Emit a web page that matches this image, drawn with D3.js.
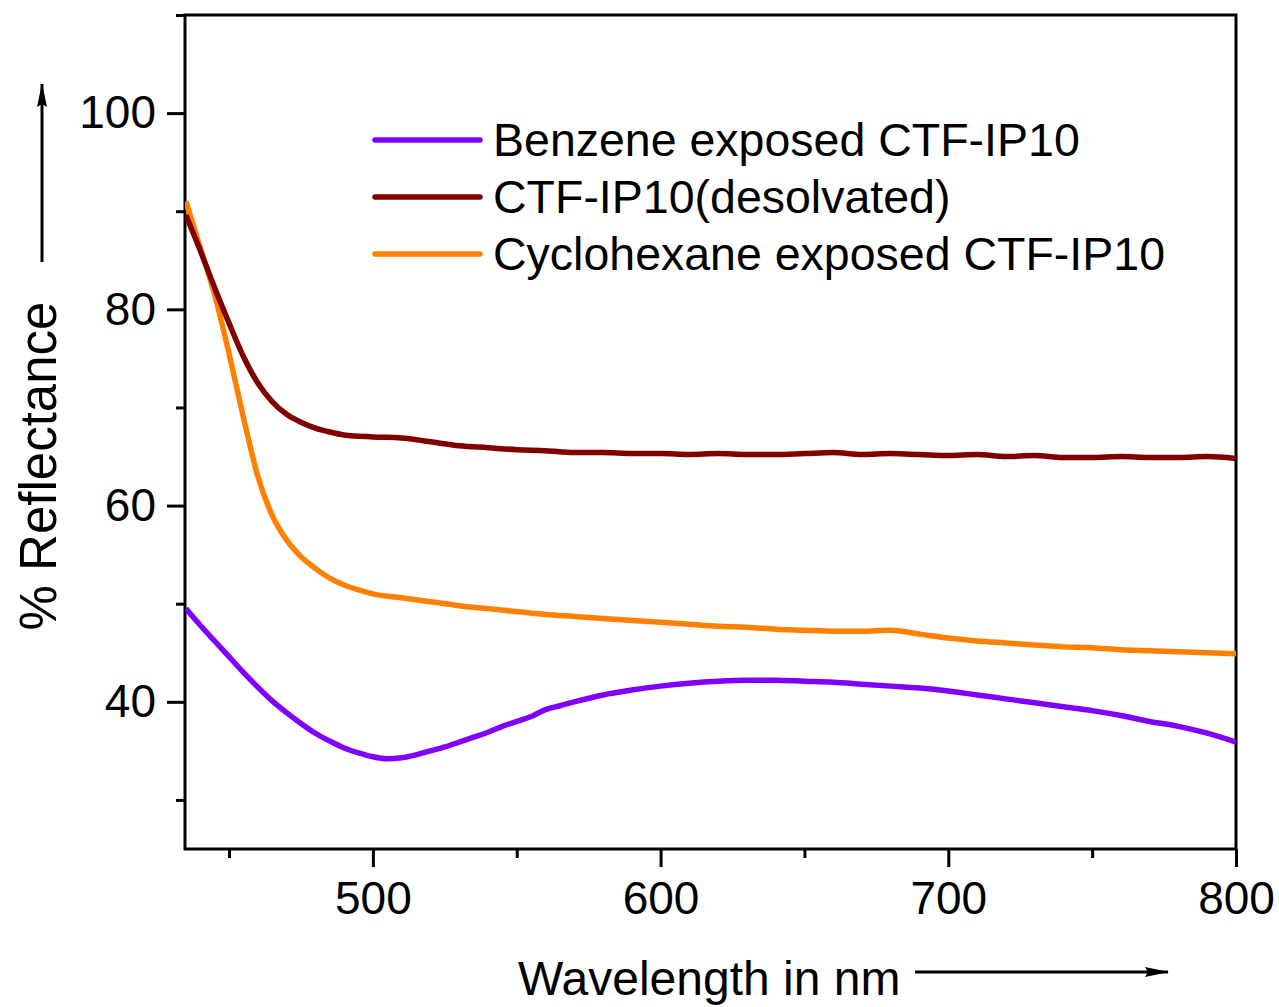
<!DOCTYPE html>
<html>
<head>
<meta charset="utf-8">
<script src="https://cdn.jsdelivr.net/npm/d3@7"></script>
<style>
  html, body { margin: 0; padding: 0; background: #fff; }
  svg { display: block; font-family: "Liberation Sans", Arial, sans-serif; }
</style>
</head>
<body>
<svg id="chart" width="1279" height="1007"></svg>
<script>
// ---- data ----
const seriesNames = ["Benzene exposed CTF-IP10", "CTF-IP10(desolvated)", "Cyclohexane exposed CTF-IP10"];
const seriesColors = ["#8000ff", "#800000", "#ff8000"];

const benzeneWl = [435,440,445,450,455,460,465,470,475,480,485,490,495,500,505,510,515,520,525,530,535,540,545,550,555,560,565,570,580,590,600,610,620,630,640,650,660,670,680,690,700,710,720,730,740,750,760,770,780,790,800];
const benzeneR  = [49.5,47.8,46.2,44.6,43.0,41.5,40.1,38.9,37.8,36.8,36.0,35.3,34.8,34.4,34.2,34.3,34.6,35.0,35.4,35.9,36.4,36.9,37.5,38.0,38.5,39.2,39.6,40.0,40.7,41.2,41.6,41.9,42.1,42.2,42.2,42.1,42.0,41.8,41.6,41.4,41.1,40.7,40.3,39.9,39.5,39.1,38.6,38.0,37.5,36.8,35.9];

const desolvWl = [435,440,445,450,455,460,465,470,475,480,485,490,500,510,520,530,540,550,560,570,580,590,600,610,620,630,640,650,660,670,680,690,700,710,720,730,740,750,760,770,780,790,800];
const desolvR  = [89.6,86.0,82.2,78.6,75.2,72.5,70.6,69.3,68.5,67.9,67.5,67.2,67.0,66.9,66.5,66.1,65.9,65.7,65.6,65.4,65.4,65.3,65.3,65.2,65.3,65.2,65.2,65.3,65.4,65.2,65.3,65.2,65.1,65.2,65.0,65.1,64.9,64.9,65.0,64.9,64.9,65.0,64.8];

const cycloWl = [435,440,445,450,455,460,465,470,475,480,485,490,495,500,510,520,530,540,550,560,570,580,590,600,610,620,630,640,650,660,670,680,690,700,710,720,730,740,750,760,770,780,790,800];
const cycloR  = [91.0,86.3,81.5,75.5,69.0,63.0,59.0,56.5,54.8,53.6,52.6,51.9,51.4,51.0,50.6,50.2,49.8,49.5,49.2,48.9,48.7,48.5,48.3,48.1,47.9,47.7,47.6,47.4,47.3,47.2,47.2,47.3,46.9,46.5,46.2,46.0,45.8,45.6,45.5,45.3,45.2,45.1,45.0,44.9];

const xMajorTicks = [500, 600, 700, 800];
const xMinorTicks = [450, 550, 650, 750];
const yMajorTicks = [40, 60, 80, 100];
const yMinorTicks = [30, 50, 70, 90, 110];

const xTitle = "Wavelength in nm";
const yTitle = "% Reflectance";

// ---- chart ----
const svg = d3.select("#chart");
const pLeft = 185, pRight = 1236, pTop = 15, pBottom = 849;

const x = d3.scaleLinear().domain([434.7, 800]).range([pLeft, pRight]);
const y = d3.scaleLinear().domain([25, 110]).range([pBottom, pTop]);

const axisW = 3;
const defs = svg.append("defs");

// frame
svg.append("rect")
  .attr("x", pLeft).attr("y", pTop)
  .attr("width", pRight - pLeft).attr("height", pBottom - pTop)
  .attr("fill", "none").attr("stroke", "#000").attr("stroke-width", axisW);

function styleAxis(g) {
  g.select(".domain").remove();
  g.selectAll(".tick line").attr("stroke", "#000").attr("stroke-width", axisW);
  g.selectAll(".tick text").attr("fill", "#000").style("font-size", "46px")
    .style("font-family", '"Liberation Sans", Arial, sans-serif');
}

// x axis
svg.append("g").attr("transform", `translate(0,${pBottom})`)
  .call(d3.axisBottom(x).tickValues(xMajorTicks).tickSize(18).tickPadding(14).tickFormat(d3.format("d")))
  .call(styleAxis);
svg.append("g").attr("transform", `translate(0,${pBottom})`)
  .call(d3.axisBottom(x).tickValues(xMinorTicks).tickSize(9).tickFormat(""))
  .call(styleAxis);

// y axis
svg.append("g").attr("transform", `translate(${pLeft},0)`)
  .call(d3.axisLeft(y).tickValues(yMajorTicks).tickSize(18).tickPadding(11).tickFormat(d3.format("d")))
  .call(styleAxis);
svg.append("g").attr("transform", `translate(${pLeft},0)`)
  .call(d3.axisLeft(y).tickValues(yMinorTicks).tickSize(9).tickFormat(""))
  .call(styleAxis);

// lines
const series = [
  {wl: benzeneWl, r: benzeneR},
  {wl: desolvWl, r: desolvR},
  {wl: cycloWl, r: cycloR}
];
const line = d3.line().x(d => x(d[0])).y(d => y(d[1])).curve(d3.curveMonotoneX);
defs.append("clipPath").attr("id", "clip")
  .append("rect").attr("x", pLeft).attr("y", pTop).attr("width", pRight - pLeft).attr("height", pBottom - pTop);

[2, 1, 0].forEach(i => {
  const s = series[i];
  const pts = s.wl.map((w, k) => [w, s.r[k]]);
  svg.append("path").datum(pts)
    .attr("d", line)
    .attr("fill", "none")
    .attr("stroke", seriesColors[i])
    .attr("stroke-width", 5.5)
    .attr("stroke-linejoin", "round")
    .attr("clip-path", "url(#clip)");
});

// legend
const legY = [140, 197, 254];
seriesNames.forEach((name, i) => {
  svg.append("line")
    .attr("x1", 375).attr("x2", 480)
    .attr("y1", legY[i]).attr("y2", legY[i])
    .attr("stroke", seriesColors[i]).attr("stroke-width", 5.5).attr("stroke-linecap", "round");
  svg.append("text")
    .attr("x", 493).attr("y", legY[i] + 16)
    .style("font-size", "46.5px").attr("fill", "#000")
    .text(name);
});

// arrow marker
defs.append("marker")
  .attr("id", "arrow").attr("viewBox", "0 0 24 12")
  .attr("refX", 23).attr("refY", 6)
  .attr("markerWidth", 24).attr("markerHeight", 12)
  .attr("markerUnits", "userSpaceOnUse")
  .attr("orient", "auto")
  .append("path").attr("d", "M0,1 L24,6 L0,11 L3,6 Z").attr("fill", "#000");

// x title
svg.append("text")
  .attr("x", 518).attr("y", 995)
  .style("font-size", "48px").attr("fill", "#000")
  .text(xTitle);
svg.append("line")
  .attr("x1", 915).attr("x2", 1168).attr("y1", 972).attr("y2", 972)
  .attr("stroke", "#000").attr("stroke-width", 3).attr("marker-end", "url(#arrow)");

// y title
svg.append("text")
  .attr("transform", "translate(56,466) rotate(-90)")
  .attr("text-anchor", "middle")
  .style("font-size", "51px").attr("fill", "#000")
  .text(yTitle);
svg.append("line")
  .attr("x1", 42).attr("x2", 42).attr("y1", 262).attr("y2", 84)
  .attr("stroke", "#000").attr("stroke-width", 3).attr("marker-end", "url(#arrow)");
</script>
</body>
</html>
